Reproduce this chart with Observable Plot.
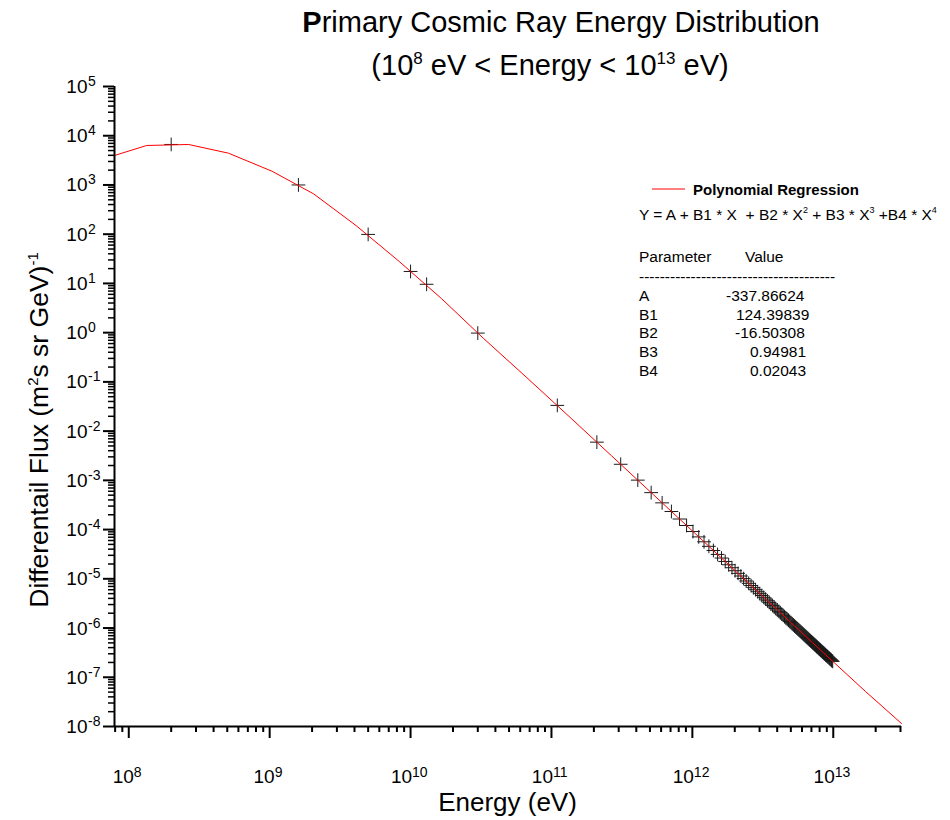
<!DOCTYPE html>
<html><head><meta charset="utf-8">
<script src="https://cdn.jsdelivr.net/npm/d3@7"></script>
<script src="https://cdn.jsdelivr.net/npm/@observablehq/plot@0.6"></script>
<style>
body{margin:0;background:#fff;}
#wrap{position:relative;width:950px;height:820px;font-family:"Liberation Sans",Arial,sans-serif;}
#wrap svg{position:absolute;left:0;top:0;}
#overlay{pointer-events:none;}
</style></head><body><div id="wrap"></div>
<script>
// Measured data points (Energy in eV, Flux in (m^2 s sr GeV)^-1)
const pointEnergy = [2e8, 1.6e9, 5e9, 1e10, 1.3e10, 3e10,
  1.1e11, 2.1e11, 3.1e11, 4.1e11, 5.1e11, 6.1e11, 7.1e11, 8.1e11, 9.1e11,
  1.01e12, 1.11e12, 1.21e12, 1.31e12, 1.41e12, 1.51e12, 1.61e12, 1.71e12, 1.81e12, 1.91e12,
  2.01e12, 2.11e12, 2.21e12, 2.31e12, 2.41e12, 2.51e12, 2.61e12, 2.71e12, 2.81e12, 2.91e12,
  3.01e12, 3.11e12, 3.21e12, 3.31e12, 3.41e12, 3.51e12, 3.61e12, 3.71e12, 3.81e12, 3.91e12,
  4.01e12, 4.11e12, 4.21e12, 4.31e12, 4.41e12, 4.51e12, 4.61e12, 4.71e12, 4.81e12, 4.91e12,
  5.01e12, 5.11e12, 5.21e12, 5.31e12, 5.41e12, 5.51e12, 5.61e12, 5.71e12, 5.81e12, 5.91e12,
  6.01e12, 6.11e12, 6.21e12, 6.31e12, 6.41e12, 6.51e12, 6.61e12, 6.71e12, 6.81e12, 6.91e12,
  7.01e12, 7.11e12, 7.21e12, 7.31e12, 7.41e12, 7.51e12, 7.61e12, 7.71e12, 7.81e12, 7.91e12,
  8.01e12, 8.11e12, 8.21e12, 8.31e12, 8.41e12, 8.51e12, 8.61e12, 8.71e12, 8.81e12, 8.91e12,
  9.01e12, 9.11e12, 9.21e12, 9.31e12, 9.41e12, 9.51e12, 9.61e12, 9.71e12, 9.81e12, 9.91e12];
const pointFlux = [6650, 1000, 99, 17.5, 9.6, 0.98,
  0.0333, 5.97e-3, 2.12e-3, 1.01e-3, 5.63e-4, 3.49e-4, 2.33e-4, 1.64e-4, 1.21e-4,
  9.13e-5, 7.10e-5, 5.65e-5, 4.57e-5, 3.76e-5, 3.13e-5, 2.64e-5, 2.25e-5, 1.93e-5, 1.68e-5,
  1.46e-5, 1.29e-5, 1.14e-5, 1.01e-5, 9.03e-6, 8.10e-6, 7.30e-6, 6.61e-6, 6.00e-6, 5.46e-6,
  4.99e-6, 4.58e-6, 4.21e-6, 3.88e-6, 3.58e-6, 3.32e-6, 3.08e-6, 2.86e-6, 2.67e-6, 2.49e-6,
  2.33e-6, 2.18e-6, 2.05e-6, 1.92e-6, 1.81e-6, 1.70e-6, 1.61e-6, 1.52e-6, 1.44e-6, 1.36e-6,
  1.29e-6, 1.22e-6, 1.16e-6, 1.10e-6, 1.05e-6, 1.00e-6, 9.53e-7, 9.09e-7, 8.68e-7, 8.30e-7,
  7.93e-7, 7.59e-7, 7.27e-7, 6.97e-7, 6.68e-7, 6.41e-7, 6.16e-7, 5.92e-7, 5.69e-7, 5.47e-7,
  5.27e-7, 5.07e-7, 4.89e-7, 4.71e-7, 4.55e-7, 4.39e-7, 4.23e-7, 4.09e-7, 3.95e-7, 3.82e-7,
  3.69e-7, 3.57e-7, 3.46e-7, 3.35e-7, 3.24e-7, 3.14e-7, 3.05e-7, 2.96e-7, 2.87e-7, 2.78e-7,
  2.70e-7, 2.62e-7, 2.55e-7, 2.48e-7, 2.41e-7, 2.34e-7, 2.28e-7, 2.21e-7, 2.15e-7, 2.10e-7];

// Polynomial regression curve
const fitEnergy = [7.92e7, 1.34e8, 2.66e8, 5.1e8, 1.04e9, 2.05e9, 4.1e9, 8.3e9, 1.66e10, 3.3e10,
  6.6e10, 1.33e11, 2.66e11, 5.3e11, 1.06e12, 2.1e12, 4.25e12, 8.5e12, 1.7e13, 3.05e13];
const fitFlux = [3970, 6340, 6640, 4420, 1900, 660, 150, 28, 4.9, 0.76,
  0.126, 0.020, 3.18e-3, 5.09e-4, 8.05e-5, 1.30e-5, 2.0e-6, 3.16e-7, 5.1e-8, 1.15e-8];

// Axes
const xDomain = [7.92e7, 3.05e13];
const yDomain = [1e-8, 1e5];
const xMajorTicks = [1e8, 1e9, 1e10, 1e11, 1e12, 1e13];
const xTickExponents = ["8", "9", "10", "11", "12", "13"];
const yMajorTicks = [1e5, 1e4, 1e3, 1e2, 1e1, 1e0, 1e-1, 1e-2, 1e-3, 1e-4, 1e-5, 1e-6, 1e-7, 1e-8];
const yTickExponents = ["5", "4", "3", "2", "1", "0", "-1", "-2", "-3", "-4", "-5", "-6", "-7", "-8"];
const minorMultipliers = [2, 3, 4, 5, 6, 7, 8, 9];

const xMinorTicks = [];
for (let p = 7; p <= 13; p++) for (const m of minorMultipliers) {
  const v = m * Math.pow(10, p);
  if (v >= xDomain[0] && v <= xDomain[1]) xMinorTicks.push(v);
}
const yMinorTicks = [];
for (let p = -8; p <= 4; p++) for (const m of minorMultipliers) yMinorTicks.push(m * Math.pow(10, p));

const points = pointEnergy.map((e, i) => ({e, f: pointFlux[i]}));
const fit = fitEnergy.map((e, i) => ({e, f: fitFlux[i]}));
const xLab = xMajorTicks.map((v, i) => ({v, exp: xTickExponents[i]}));
const yLab = yMajorTicks.map((v, i) => ({v, exp: yTickExponents[i]}));
const xLab1 = xLab.filter(d => d.exp.length === 1);
const xLab2 = xLab.filter(d => d.exp.length === 2);

const font = '"Liberation Sans", Arial, sans-serif';
const chart = Plot.plot({
  width: 950, height: 820,
  marginLeft: 114, marginRight: 49, marginTop: 86, marginBottom: 94,
  style: {fontFamily: font, background: "white", color: "black"},
  x: {type: "log", domain: xDomain, axis: null},
  y: {type: "log", domain: yDomain, axis: null},
  marks: [
    Plot.dot(points, {x: "e", y: "f", symbol: "plus", r: 4.5, stroke: "#1a1a1a", strokeWidth: 1}),
    Plot.line(fit, {x: "e", y: "f", stroke: "#ff0000", strokeWidth: 1}),
    Plot.axisX({ticks: xMinorTicks, tickSize: 6, tickFormat: () => "", label: null, strokeWidth: 2}),
    Plot.axisX({ticks: xMajorTicks, tickSize: 12, tickFormat: () => "", label: null, strokeWidth: 2}),
    Plot.axisY({ticks: yMinorTicks, tickSize: 6, tickFormat: () => "", label: null, strokeWidth: 1.5}),
    Plot.axisY({ticks: yMajorTicks, tickSize: 11, tickFormat: () => "", label: null, strokeWidth: 2}),
    Plot.ruleX([xDomain[0]], {stroke: "black", strokeWidth: 2}),
    Plot.ruleY([yDomain[0]], {stroke: "black", strokeWidth: 2}),
    // x tick labels "10^n"
    Plot.text(xLab1, {x: "v", text: () => "10", frameAnchor: "bottom", lineAnchor: "bottom", textAnchor: "end", dx: 5, dy: 56, fontSize: 19}),
    Plot.text(xLab1, {x: "v", text: "exp", frameAnchor: "bottom", lineAnchor: "bottom", textAnchor: "start", dx: 5, dy: 50, fontSize: 14}),
    Plot.text(xLab2, {x: "v", text: () => "10", frameAnchor: "bottom", lineAnchor: "bottom", textAnchor: "end", dx: 1.5, dy: 56, fontSize: 19}),
    Plot.text(xLab2, {x: "v", text: "exp", frameAnchor: "bottom", lineAnchor: "bottom", textAnchor: "start", dx: 1.5, dy: 50, fontSize: 14}),
    // y tick labels
    Plot.text(yLab, {y: "v", text: () => "10", frameAnchor: "left", lineAnchor: "bottom", textAnchor: "end", dx: -27, dy: 6.5, fontSize: 19}),
    Plot.text(yLab, {y: "v", text: "exp", frameAnchor: "left", lineAnchor: "bottom", textAnchor: "start", dx: -26.5, dy: -0.5, fontSize: 14})
  ]
});
document.getElementById("wrap").appendChild(chart);

// Titles, axis labels and fit annotation
const NS = "http://www.w3.org/2000/svg";
const overlay = `
<svg id="overlay" xmlns="${NS}" width="950" height="820" style="font-family:${font.replace(/"/g, "'")}">
  <text x="561" y="32" font-size="29" text-anchor="middle"><tspan font-weight="bold">P</tspan>rimary Cosmic Ray Energy Distribution</text>
  <text x="550" y="75" font-size="29" text-anchor="middle">(10<tspan font-size="17" dy="-11">8</tspan><tspan dy="11"> eV &lt; Energy &lt; 10</tspan><tspan font-size="17" dy="-11">13</tspan><tspan dy="11"> eV)</tspan></text>
  <text x="507.5" y="811" font-size="26" text-anchor="middle">Energy (eV)</text>
  <text transform="translate(48,430) rotate(-90)" font-size="26.5" text-anchor="middle">Differentail Flux (m<tspan font-size="15" dy="-10">2</tspan><tspan dy="10">s sr GeV)</tspan><tspan font-size="15" dy="-10">-1</tspan></text>
  <line x1="652" x2="685" y1="189" y2="189" stroke="#ff0000" stroke-width="1"/>
  <text x="693" y="195" font-size="15" font-weight="bold">Polynomial Regression</text>
  <text x="639" y="220" font-size="15.5" style="white-space:pre">Y = A + B1 * X  + B2 * X<tspan font-size="9" dy="-7">2</tspan><tspan dy="7"> + B3 * X</tspan><tspan font-size="9" dy="-7">3</tspan><tspan dy="7"> +B4 * X</tspan><tspan font-size="9" dy="-7">4</tspan></text>
  <text x="639" y="262" font-size="15.5">Parameter</text>
  <text x="745" y="262" font-size="15.5">Value</text>
  <text x="639" y="282" font-size="15.5">--------------------------------------</text>
  <text x="639" y="301" font-size="15.5">A</text>
  <text x="726" y="301" font-size="15.5">-337.86624</text>
  <text x="639" y="319.5" font-size="15.5">B1</text>
  <text x="736" y="319.5" font-size="15.5">124.39839</text>
  <text x="639" y="338" font-size="15.5">B2</text>
  <text x="735" y="338" font-size="15.5">-16.50308</text>
  <text x="639" y="357" font-size="15.5">B3</text>
  <text x="750" y="357" font-size="15.5">0.94981</text>
  <text x="639" y="375.5" font-size="15.5">B4</text>
  <text x="750" y="375.5" font-size="15.5">0.02043</text>
</svg>`;
document.getElementById("wrap").insertAdjacentHTML("beforeend", overlay);
</script>
</body></html>
